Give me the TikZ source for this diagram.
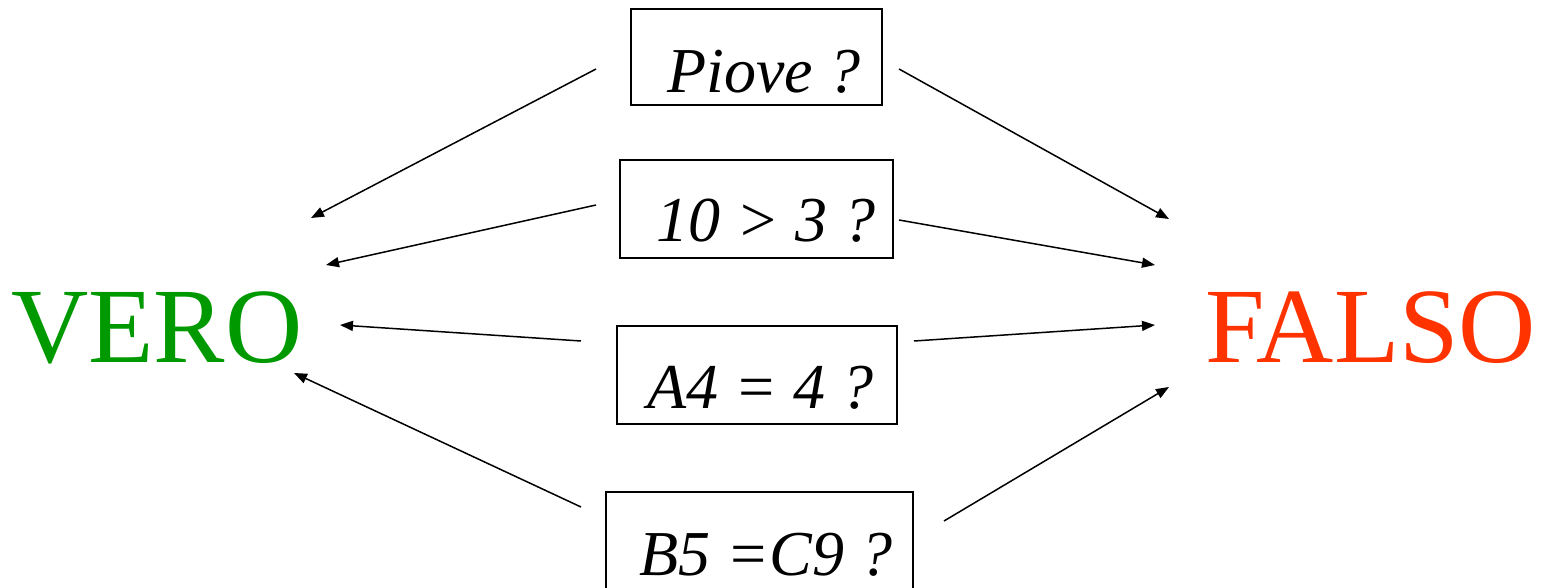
\documentclass[tikz,border=0pt]{standalone}
\usepackage{fontspec}
\setmainfont{Liberation Serif}
\newfontfamily\tms{Liberation Serif}
\usetikzlibrary{arrows.meta}
\definecolor{verogreen}{RGB}{0,153,0}
\definecolor{falsored}{RGB}{255,51,0}
\begin{document}
\begin{tikzpicture}[x=1pt,y=-1pt,
  qbox/.style={draw,line width=1.6pt,inner sep=0pt},
  qtext/.style={anchor=base west,inner sep=0pt,font=\tms\fontsize{64}{70}\selectfont\itshape},
  big/.style={anchor=base west,inner sep=0pt,font=\tms\fontsize{107}{110}\selectfont},
  conn/.style={line width=1.5pt,-{Triangle[length=13pt,width=10pt]}}]
\useasboundingbox (0,0) rectangle (1556,588);
\clip (0,0) rectangle (1556,588);
% boxes
\node[qbox,minimum width=251pt,minimum height=96pt] (b1) at (756.5,57) {};
\node[qbox,minimum width=273pt,minimum height=98pt] (b2) at (756.5,209) {};
\node[qbox,minimum width=280pt,minimum height=98pt] (b3) at (757,375) {};
\node[qbox,minimum width=307pt,minimum height=110pt] (b4) at (759.5,547) {};
% texts
\node[qtext] (t1) at (667,93) {Piove ?};
\node[qtext] (t2) at (656,242) {10 > 3 ?};
\node[qtext] (t3) at (647,408) {A4 = 4 ?};
\node[qtext] (t4) at (639,575) {B5 =C9 ?};
\node[big,text=verogreen] (vero) at (11,362) {VERO};
\node[big,text=falsored] (falso) at (1205,362) {FALSO};
% connector ends
\coordinate (v1) at (311,218);
\coordinate (v2) at (326,265);
\coordinate (v3) at (340,325);
\coordinate (v4) at (294,373);
\coordinate (f1) at (1169,219);
\coordinate (f2) at (1155,265);
\coordinate (f3) at (1155,325);
\coordinate (f4) at (1169,387);
\coordinate (l1) at (596,69);
\coordinate (l2) at (596,205);
\coordinate (l3) at (581,341);
\coordinate (l4) at (581,507);
\coordinate (r1) at (899,69);
\coordinate (r2) at (899,220);
\coordinate (r3) at (914,341);
\coordinate (r4) at (944,521);
\draw[conn] (l1) -- (v1);
\draw[conn] (l2) -- (v2);
\draw[conn] (l3) -- (v3);
\draw[conn] (l4) -- (v4);
\draw[conn] (r1) -- (f1);
\draw[conn] (r2) -- (f2);
\draw[conn] (r3) -- (f3);
\draw[conn] (r4) -- (f4);
\end{tikzpicture}
\end{document}
